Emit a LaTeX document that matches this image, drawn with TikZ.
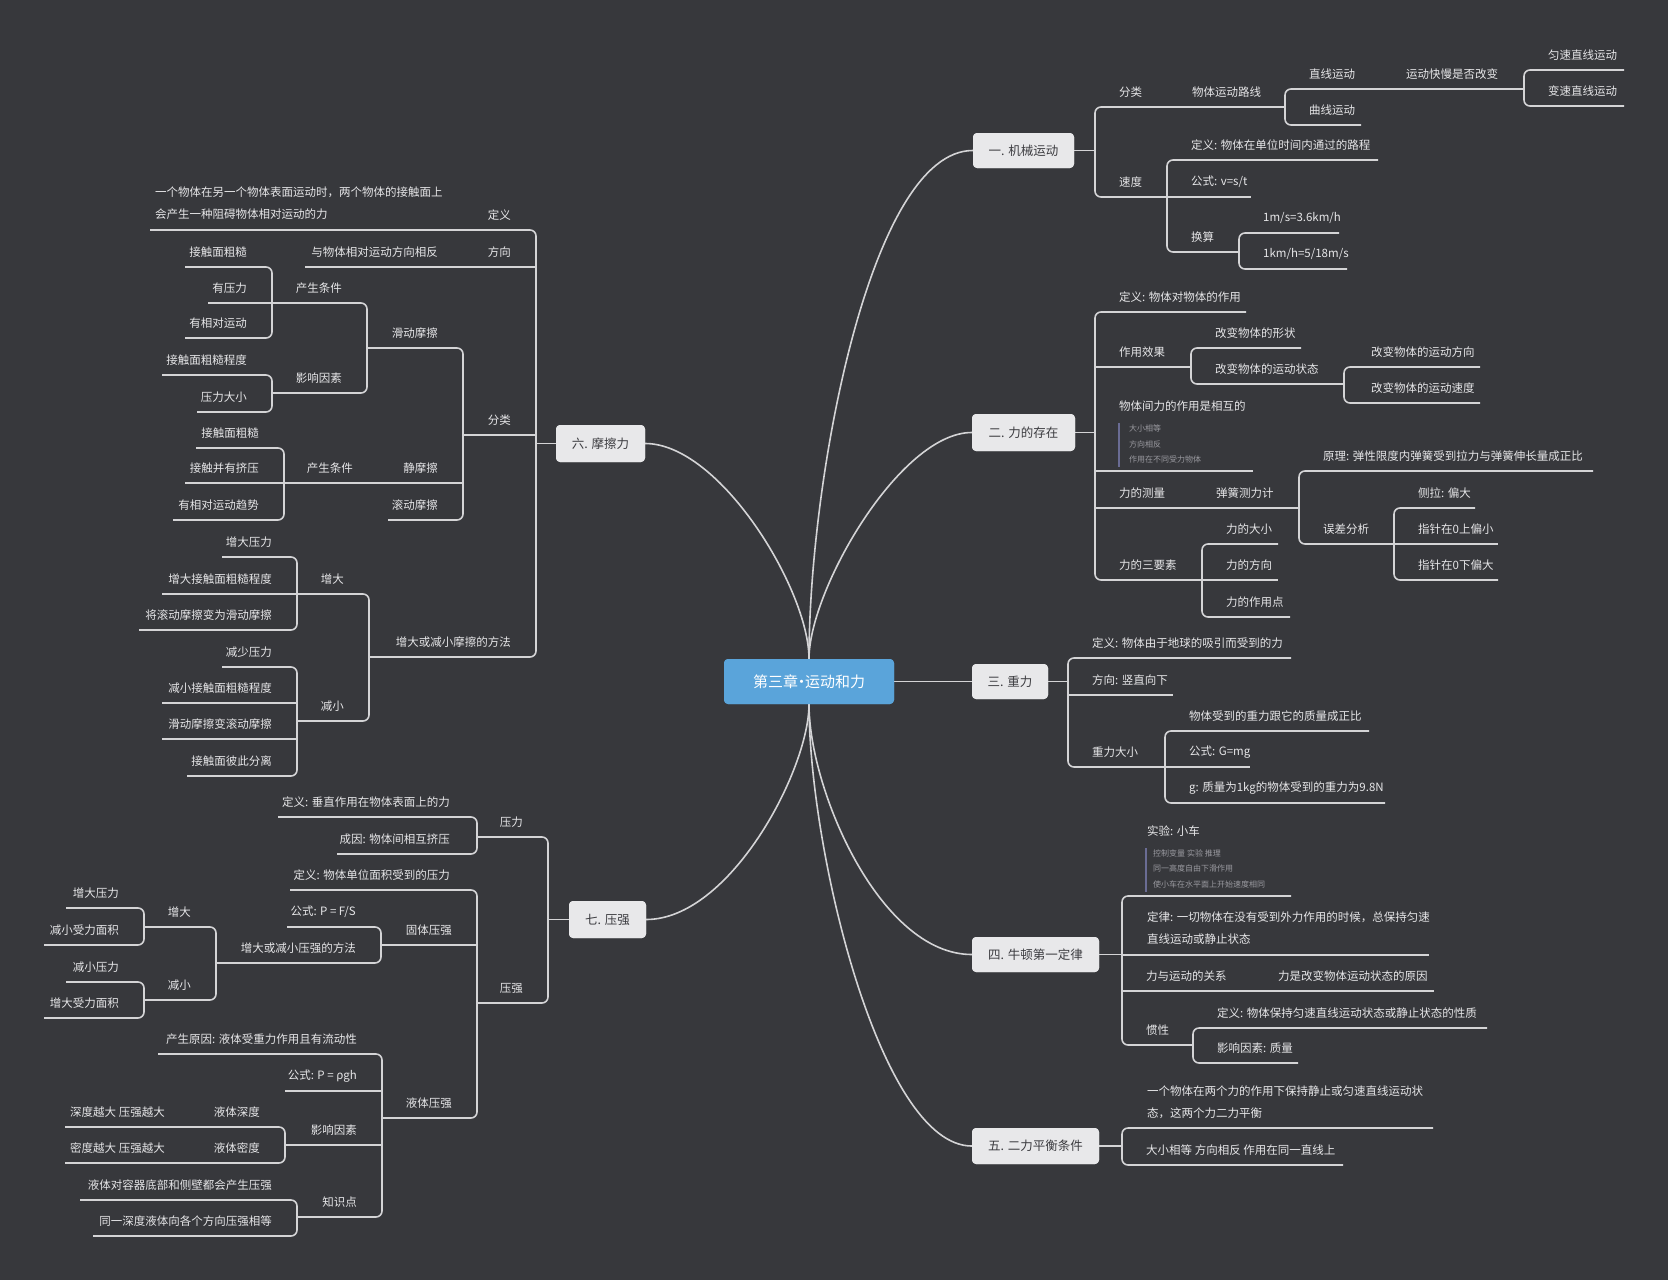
\documentclass[tikz,border=0pt]{standalone}
\usepackage{fontspec}
\setmainfont{Noto Sans CJK SC}
\definecolor{bgc}{HTML}{37383C}
\definecolor{lnc}{HTML}{D4D4D6}
\definecolor{txc}{HTML}{E6E6E8}
\definecolor{boxc}{HTML}{E8E8EA}
\definecolor{boxt}{HTML}{3C3C40}
\definecolor{ctrc}{HTML}{5AA4DA}
\definecolor{notec}{HTML}{9A9AA0}
\definecolor{barc}{HTML}{6A6C94}
\tikzset{
  ln/.style={draw=lnc, line width=1.6pt, rounded corners=6pt},
  txt/.style={text=txc, font=\fontsize{11.5}{22}\selectfont, inner sep=0pt, align=left},
  notetxt/.style={text=notec, font=\fontsize{8}{10}\selectfont, inner sep=0pt, anchor=west},
  notebar/.style={draw=barc, line width=1.5pt},
  mainbox/.style={fill=boxc, rounded corners=4pt, text=boxt, font=\fontsize{12.5}{15}\selectfont, inner sep=0pt},
  ctrbox/.style={fill=ctrc, rounded corners=4pt, text=white, font=\fontsize{15}{18}\selectfont, inner sep=0pt, minimum width=170pt, minimum height=45pt}
}
% right-side topic: name, start x, end x, underline y, text
\newcommand\tR[5]{\coordinate (#1-s) at (#2,#4); \coordinate (#1-e) at (#3,#4);
  \node[txt,anchor=west] (#1) at ({#2+24},{#4-15}) {#5};}
\newcommand\tRp[7]{\coordinate (#1-s) at (#2,#4); \coordinate (#1-e) at (#3,#4);
  \node[txt,anchor=west] (#1) at (#5,#6) {#7};}
% left-side topic
\newcommand\tL[5]{\coordinate (#1-s) at (#2,#4); \coordinate (#1-e) at (#3,#4);
  \node[txt,anchor=east] (#1) at ({#2-25},{#4-15}) {#5};}
\newcommand\tLp[7]{\coordinate (#1-s) at (#2,#4); \coordinate (#1-e) at (#3,#4);
  \node[txt,anchor=east] (#1) at (#5,#6) {#7};}
\newcommand\brkt[2]{\draw[ln] (#1-e) -- (#1-s) -- (#2-s) -- (#2-e);}
\newcommand\midl[1]{\draw[ln] (#1-s) -- (#1-e);}
\newcommand\ctrtext{第三章\hspace{-4pt}·\hspace{-4pt}运动和力}
\begin{document}
\begin{tikzpicture}[x=1pt,y=-1pt]
\useasboundingbox (0,0) rectangle (1668,1280);
\fill[bgc] (0,0) rectangle (1668,1280);

% ---------- main nodes ----------
\node[ctrbox] (C) at (809,681.5) {\ctrtext};
\node[mainbox, minimum width=101pt, minimum height=35pt] (B1) at (1023.5,150.5) {一. 机械运动};
\node[mainbox, minimum width=103pt, minimum height=37pt] (B2) at (1023.5,432.5) {二. 力的存在};
\node[mainbox, minimum width=76pt, minimum height=35pt] (B3) at (1010,681.5) {三. 重力};
\node[mainbox, minimum width=127pt, minimum height=35pt] (B4) at (1035.5,954.5) {四. 牛顿第一定律};
\node[mainbox, minimum width=127pt, minimum height=36pt] (B5) at (1035.5,1146) {五. 二力平衡条件};
\node[mainbox, minimum width=89pt, minimum height=37pt] (B6) at (600.5,443.5) {六. 摩擦力};
\node[mainbox, minimum width=77pt, minimum height=37pt] (B7) at (607.5,919.5) {七. 压强};

% ---------- center connectors ----------
\draw[ln] (C.north) .. controls (809,480) and (870,150.5) .. (B1.west);
\draw[ln] (C.north) .. controls (809,590) and (900,432.5) .. (B2.west);
\draw[ln] (C.east) -- (B3.west);
\draw[ln] (C.south) .. controls (809,790) and (880,954.5) .. (B4.west);
\draw[ln] (C.south) .. controls (809,850) and (880,1146) .. (B5.west);
\draw[ln] (C.north) .. controls (809,590) and (720,443.5) .. (B6.east);
\draw[ln] (C.south) .. controls (809,770) and (730,919.5) .. (B7.east);

% ---------- 一. 机械运动 ----------
\tR{a1}{1095}{1168}{107}{分类}
\tRp{a11}{1168}{1285}{107}{1192}{92}{物体运动路线}
\tR{a111}{1285}{1382}{89}{直线运动}
\tRp{a1111}{1382}{1524}{89}{1406}{74}{运动快慢是否改变}
\tR{a11111}{1524}{1624}{70}{匀速直线运动}
\tR{a11112}{1524}{1624}{106}{变速直线运动}
\tR{a112}{1285}{1361}{125}{曲线运动}
\tR{a2}{1095}{1167}{197}{速度}
\tR{a21}{1167}{1378}{160}{定义: 物体在单位时间内通过的路程}
\tR{a22}{1167}{1251}{197}{公式: v=s/t}
\tR{a23}{1167}{1239}{252}{换算}
\tR{a231}{1239}{1339}{233}{1m/s=3.6km/h}
\tR{a232}{1239}{1347}{269}{1km/h=5/18m/s}
\draw[ln] (B1.east) -- (B1.east -| a1-s);
\brkt{a1}{a2} \midl{a11} \brkt{a111}{a112} \midl{a1111} \brkt{a11111}{a11112}
\brkt{a21}{a23} \midl{a22} \brkt{a231}{a232}

% ---------- 二. 力的存在 ----------
\tR{b1}{1095}{1246}{312}{定义: 物体对物体的作用}
\tR{b2}{1095}{1191}{367}{作用效果}
\tR{b21}{1191}{1301}{348}{改变物体的形状}
\tR{b22}{1191}{1344}{384}{改变物体的运动状态}
\tRp{b221}{1344}{1480}{367}{1371}{352}{改变物体的运动方向}
\tRp{b222}{1344}{1480}{403}{1371}{388}{改变物体的运动速度}
\tRp{b3}{1095}{1253}{471}{1119}{406}{物体间力的作用是相互的}
\tR{b4}{1095}{1200}{508}{力的测量}
\tRp{b41}{1200}{1299}{508}{1216}{493}{弹簧测力计}
\tR{b411}{1299}{1593}{471}{原理: 弹性限度内弹簧受到拉力与弹簧伸长量成正比}
\tR{b412}{1299}{1394}{544}{误差分析}
\tR{b4121}{1394}{1475}{508}{侧拉: 偏大}
\tR{b4122}{1394}{1498}{544}{指针在0上偏小}
\tR{b4123}{1394}{1498}{580}{指针在0下偏大}
\tR{b5}{1095}{1202}{580}{力的三要素}
\tR{b51}{1202}{1278}{544}{力的大小}
\tR{b52}{1202}{1278}{580}{力的方向}
\tR{b53}{1202}{1290}{617}{力的作用点}
\draw[notebar] (1119,423) -- (1119,467);
\node[notetxt] (n21) at (1129,428) {大小相等};
\node[notetxt] (n22) at (1129,444) {方向相反};
\node[notetxt] (n23) at (1129,459) {作用在不同受力物体};
\draw[ln] (B2.east) -- (B2.east -| b1-s);
\brkt{b1}{b5} \midl{b2} \midl{b3} \midl{b4}
\brkt{b21}{b22} \brkt{b221}{b222} \midl{b41} \brkt{b411}{b412}
\brkt{b4121}{b4123} \midl{b4122} \brkt{b51}{b53} \midl{b52}

% ---------- 三. 重力 ----------
\tR{c1}{1068}{1291}{658}{定义: 物体由于地球的吸引而受到的力}
\tR{c2}{1068}{1173}{695}{方向: 竖直向下}
\tR{c3}{1068}{1165}{767}{重力大小}
\tR{c31}{1165}{1369}{731}{物体受到的重力跟它的质量成正比}
\tR{c32}{1165}{1250}{767}{公式: G=mg}
\tR{c33}{1165}{1385}{803}{g: 质量为1kg的物体受到的重力为9.8N}
\draw[ln] (B3.east) -- (B3.east -| c1-s);
\brkt{c1}{c3} \midl{c2} \brkt{c31}{c33} \midl{c32}

% ---------- 四. 牛顿第一定律 ----------
\tRp{d1}{1122}{1291}{896}{1147}{831}{实验: 小车}
\tRp{d2}{1122}{1429}{955}{1147}{928.5}{定律: 一切物体在没有受到外力作用的时候，总保持匀速\\直线运动或静止状态}
\tR{d3}{1122}{1254}{991}{力与运动的关系}
\tRp{d31}{1254}{1434}{991}{1278}{976}{力是改变物体运动状态的原因}
\tR{d4}{1122}{1193}{1045}{惯性}
\tR{d41}{1193}{1487}{1028}{定义: 物体保持匀速直线运动状态或静止状态的性质}
\tR{d42}{1193}{1298}{1063}{影响因素: 质量}
\draw[notebar] (1146,848) -- (1146,892);
\node[notetxt] (n41) at (1153,853) {控制变量 实验 推理};
\node[notetxt] (n42) at (1153,868) {同一高度自由下滑作用};
\node[notetxt] (n43) at (1153,884) {使小车在水平面上开始速度相同};
\draw[ln] (B4.east) -- (B4.east -| d1-s);
\brkt{d1}{d4} \midl{d2} \midl{d3} \midl{d31} \brkt{d41}{d42}

% ---------- 五. 二力平衡条件 ----------
\tRp{e1}{1122}{1433}{1128}{1147}{1102}{一个物体在两个力的作用下保持静止或匀速直线运动状\\态，这两个力二力平衡}
\tR{e2}{1122}{1343}{1165}{大小相等 方向相反 作用在同一直线上}
\draw[ln] (B5.east) -- (B5.east -| e1-s);
\brkt{e1}{e2}

% ---------- 六. 摩擦力 ----------
\tL{f1}{536}{462}{230}{定义}
\tRp{f11}{462}{150}{230}{155}{203.5}{一个物体在另一个物体表面运动时，两个物体的接触面上\\会产生一种阻碍物体相对运动的力}
\tL{f2}{536}{460}{267}{方向}
\tLp{f21}{460}{305}{267}{438}{252}{与物体相对运动方向相反}
\tL{f3}{536}{463}{435}{分类}
\tL{f31}{463}{367}{348}{滑动摩擦}
\tL{f311}{367}{272}{303}{产生条件}
\tL{f3111}{272}{185}{267}{接触面粗糙}
\tL{f3112}{272}{208}{303}{有压力}
\tL{f3113}{272}{185}{338}{有相对运动}
\tL{f312}{367}{272}{393}{影响因素}
\tL{f3121}{272}{162}{375}{接触面粗糙程度}
\tL{f3122}{272}{197}{412}{压力大小}
\tL{f32}{463}{378}{483}{静摩擦}
\tL{f321}{378}{284}{483}{产生条件}
\tL{f3211}{284}{196}{448}{接触面粗糙}
\tL{f3212}{284}{185}{483}{接触并有挤压}
\tL{f3213}{284}{173}{520}{有相对运动趋势}
\tL{f33}{463}{388}{520}{滚动摩擦}
\tL{f4}{536}{369}{657}{增大或减小摩擦的方法}
\tL{f41}{369}{297}{594}{增大}
\tL{f411}{297}{222}{557}{增大压力}
\tL{f412}{297}{162}{594}{增大接触面粗糙程度}
\tL{f413}{297}{139}{630}{将滚动摩擦变为滑动摩擦}
\tL{f42}{369}{297}{721}{减小}
\tL{f421}{297}{222}{667}{减少压力}
\tL{f422}{297}{162}{703}{减小接触面粗糙程度}
\tL{f423}{297}{162}{739}{滑动摩擦变滚动摩擦}
\tL{f424}{297}{187}{776}{接触面彼此分离}
\draw[ln] (B6.west) -- (B6.west -| f1-s);
\brkt{f1}{f4} \midl{f2} \midl{f3} \midl{f11} \midl{f21}
\brkt{f31}{f33} \midl{f32} \brkt{f311}{f312} \brkt{f3111}{f3113} \midl{f3112}
\brkt{f3121}{f3122} \midl{f321} \brkt{f3211}{f3213} \midl{f3212}
\brkt{f41}{f42} \brkt{f411}{f413} \midl{f412} \brkt{f421}{f424} \midl{f422} \midl{f423}

% ---------- 七. 压强 ----------
\tL{g1}{548}{477}{837}{压力}
\tLp{g11}{477}{278}{817}{450}{802}{定义: 垂直作用在物体表面上的力}
\tLp{g12}{477}{337}{854}{450}{839}{成因: 物体间相互挤压}
\tL{g2}{548}{477}{1003}{压强}
\tLp{g21}{477}{290}{890}{450}{875}{定义: 物体单位面积受到的压力}
\tL{g22}{477}{381}{945}{固体压强}
\tL{g221}{381}{287}{927}{公式: P = F/S}
\tL{g222}{381}{216}{963}{增大或减小压强的方法}
\tL{g2221}{216}{144}{927}{增大}
\tL{g22211}{144}{66}{908}{增大压力}
\tL{g22212}{144}{44}{945}{减小受力面积}
\tL{g2222}{216}{144}{1000}{减小}
\tL{g22221}{144}{66}{982}{减小压力}
\tL{g22222}{144}{44}{1018}{增大受力面积}
\tL{g23}{477}{382}{1118}{液体压强}
\tL{g231}{382}{158}{1054}{产生原因: 液体受重力作用且有流动性}
\tL{g232}{382}{285}{1091}{公式: P = ρgh}
\tL{g233}{382}{285}{1145}{影响因素}
\tL{g2331}{285}{190}{1127}{液体深度}
\tL{g23311}{190}{65}{1127}{深度越大 压强越大}
\tL{g2332}{285}{190}{1163}{液体密度}
\tL{g23321}{190}{65}{1163}{密度越大 压强越大}
\tL{g234}{382}{297}{1217}{知识点}
\tL{g2341}{297}{80}{1200}{液体对容器底部和侧壁都会产生压强}
\tL{g2342}{297}{93}{1236}{同一深度液体向各个方向压强相等}
\draw[ln] (B7.west) -- (B7.west -| g1-s);
\brkt{g1}{g2} \brkt{g11}{g12} \brkt{g21}{g23} \midl{g22}
\brkt{g221}{g222} \brkt{g2221}{g2222} \brkt{g22211}{g22212} \brkt{g22221}{g22222}
\brkt{g231}{g234} \midl{g232} \midl{g233} \brkt{g2331}{g2332} \midl{g23311} \midl{g23321}
\brkt{g2341}{g2342}

% redraw main boxes above connectors
\node[ctrbox] at (C) {\ctrtext};
\node[mainbox, minimum width=101pt, minimum height=35pt] at (B1) {一. 机械运动};
\node[mainbox, minimum width=103pt, minimum height=37pt] at (B2) {二. 力的存在};
\node[mainbox, minimum width=76pt, minimum height=35pt] at (B3) {三. 重力};
\node[mainbox, minimum width=127pt, minimum height=35pt] at (B4) {四. 牛顿第一定律};
\node[mainbox, minimum width=127pt, minimum height=36pt] at (B5) {五. 二力平衡条件};
\node[mainbox, minimum width=89pt, minimum height=37pt] at (B6) {六. 摩擦力};
\node[mainbox, minimum width=77pt, minimum height=37pt] at (B7) {七. 压强};
\end{tikzpicture}
\end{document}
